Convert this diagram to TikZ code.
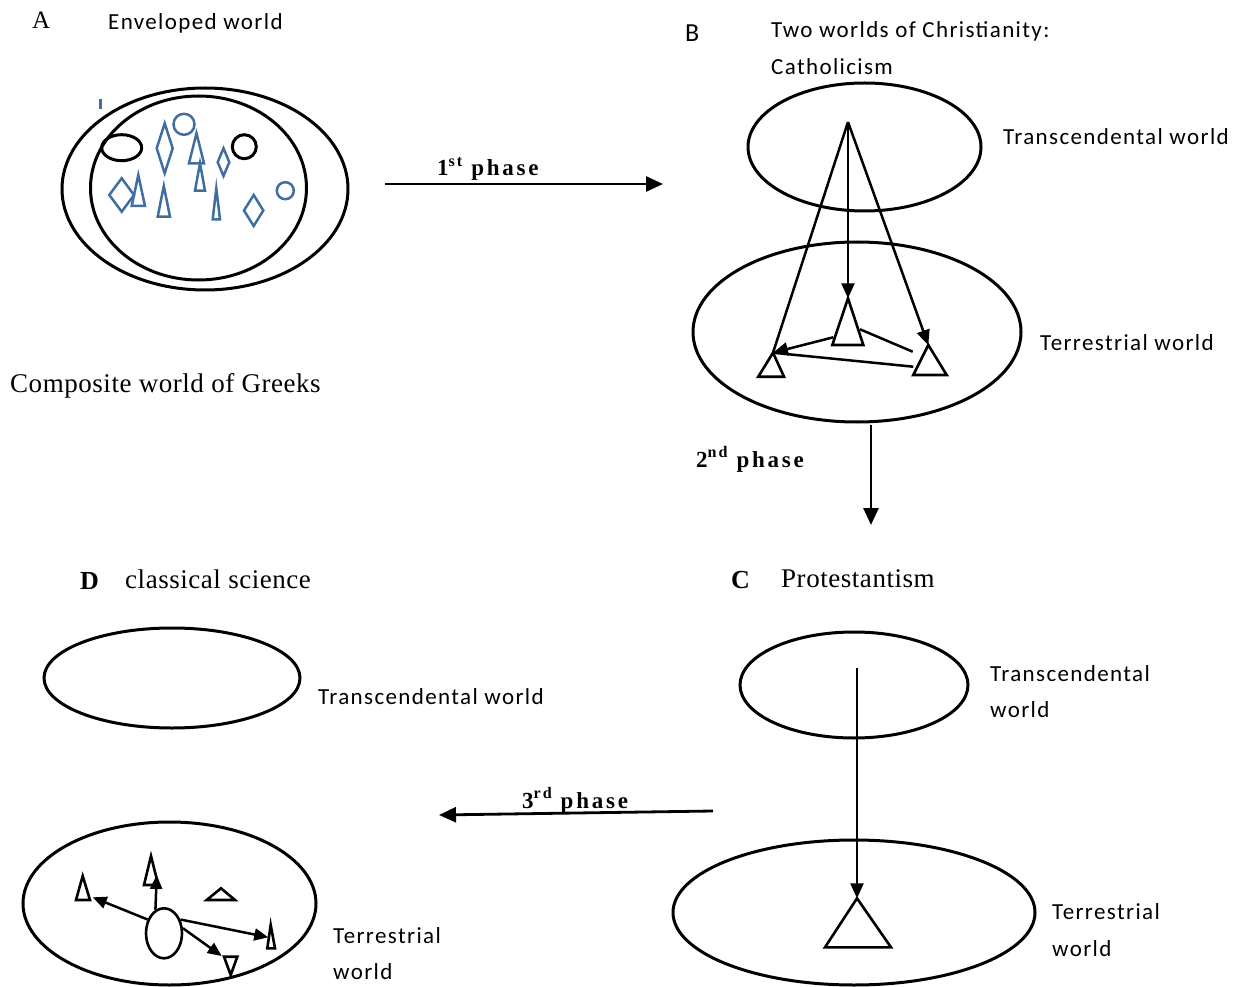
\documentclass[tikz,border=0pt]{standalone}
\usepackage{fontspec}
\setmainfont{Liberation Serif}
\newfontfamily\lab{Carlito}[LetterSpace=6]
\newfontfamily\ser{Liberation Serif}[LetterSpace=2]
\newfontfamily\phs{Liberation Serif}[LetterSpace=12]
\usetikzlibrary{shapes.geometric,arrows.meta}
\definecolor{shapeblue}{RGB}{65,110,160}
\tikzset{
  lbl/.style={anchor=base west, inner sep=0, font=\lab\fontsize{23}{27}\selectfont},
  serlbl/.style={anchor=base west, inner sep=0, font=\ser\fontsize{27}{30}\selectfont},
  letter/.style={anchor=base west, inner sep=0, font=\ser\fontsize{25}{28}\selectfont},
  bletter/.style={anchor=base west, inner sep=0, font=\ser\bfseries\fontsize{26}{28}\selectfont},
  phaselbl/.style={anchor=base west, inner sep=0, font=\phs\bfseries\fontsize{23}{26}\selectfont},
  world/.style={draw, ellipse, line width=3pt, inner sep=0, outer sep=0},
  blueshape/.style={draw=shapeblue, line width=2.5pt},
  blackshape/.style={draw=black, line width=3pt},
  tri/.style={draw, line width=2.6pt, line join=miter},
  conn/.style={line width=2.5pt, -{Triangle[length=15pt,width=13pt]}},
  plain/.style={line width=2.5pt},
  small/.style={line width=2.5pt, -{Triangle[length=14pt,width=12pt]}},
  phase/.style={line width=2.8pt, -{Triangle[length=17pt,width=15pt]}}
}
\begin{document}
\begin{tikzpicture}[x=1pt,y=-1pt]
\useasboundingbox (0,0) rectangle (1251,987);
\fill[white] (0,0) rectangle (1251,987);

% ---------- Panel A ----------
\node[letter] (Alab) at (32,29) {A};
\node[lbl] (Aenv) at (108,30) {Enveloped world};
\node[serlbl] (Acomp) at (10,392) {Composite world of Greeks};
\node[world, minimum width=286pt, minimum height=202pt] (Aout) at (205,189) {};
\node[world, minimum width=216pt, minimum height=184pt] (Ain) at (198.5,188) {};
% small shapes
\draw[blueshape] (100.7,99) -- (100.7,109);
\draw[blackshape] (121.7,147.7) ellipse [x radius=20, y radius=13];
\draw[blackshape] (244.3,146.7) circle [radius=12];
\draw[blueshape] (184,124.3) circle [radius=10.5];
\draw[blueshape] (285.3,190.7) circle [radius=8.5];
% diamonds
\draw[blueshape] (164.7,123.3) -- (172.7,148.3) -- (164.7,173.3) -- (156.7,148.3) -- cycle;
\draw[blueshape] (223.5,148.3) -- (229.3,162.2) -- (223.5,176) -- (217.7,162.2) -- cycle;
\draw[blueshape] (121.7,178.3) -- (134,195) -- (121.7,211.7) -- (109.3,195) -- cycle;
\draw[blueshape] (253.7,195) -- (263.3,210.5) -- (253.7,226) -- (244,210.5) -- cycle;
% triangles
\draw[blueshape] (196.5,133.3) -- (204,163.3) -- (189,163.3) -- cycle;
\draw[blueshape] (138.3,175) -- (145,206) -- (131.7,206) -- cycle;
\draw[blueshape] (163.8,186) -- (170,216.7) -- (157.7,216.7) -- cycle;
\draw[blueshape] (200,163.3) -- (205,190.7) -- (195,190.7) -- cycle;
\draw[blueshape] (216.3,188.3) -- (220,219.3) -- (212.7,219.3) -- cycle;

% ---------- phase 1 ----------
\coordinate (p1s) at (385,184);
\coordinate (p1e) at (663,184);
\draw[phase] (p1s) -- (p1e);
\node[phaselbl] (p1lab) at (437,176) {1\textsuperscript{st} phase};

% ---------- Panel B ----------
\node[lbl, font=\lab\fontsize{26}{28}\selectfont] (Blab) at (685,42) {B};
\node[lbl] (Btitle) at (771,38) {Two worlds of Christianity:};
\node[lbl] (Bcath) at (771,75) {Catholicism};
\node[world, minimum width=233pt, minimum height=128pt] (Btop) at (864.5,147) {};
\node[world, minimum width=328pt, minimum height=180pt] (Bbot) at (857,332) {};
\node[lbl] (Btrans) at (1003,145) {Transcendental world};
\node[lbl] (Bterr) at (1040,350) {Terrestrial world};
\coordinate (Bsrc) at (848,122);
\coordinate (Bc) at (848,298.3);
\coordinate (Bl) at (773,352.7);
\coordinate (Br) at (928.3,345);
\draw[tri] (Bc) -- (863.3,345) -- (832.3,345) -- cycle;
\draw[tri] (Bl) -- (784,376.7) -- (758.3,376.7) -- cycle;
\draw[tri] (Br) -- (946.7,375) -- (913.3,375) -- cycle;
\draw[conn] (Bsrc) -- (Bc);
\draw[conn] (Bsrc) -- (Br);
\draw[plain] (Bsrc) -- (Bl);
\coordinate (Bcl) at (833.3,337.3);
\coordinate (Brl) at (913.3,366.7);
\coordinate (Bcr) at (860,329.3);
\coordinate (Brm) at (912.7,351.7);
\draw[conn] (Bcl) -- (Bl);
\draw[plain] (Brl) -- (Bl);
\draw[plain] (Bcr) -- (Brm);

% ---------- phase 2 ----------
\coordinate (p2s) at (871,425);
\coordinate (p2e) at (871,525);
\draw[phase] (p2s) -- (p2e);
\node[phaselbl] (p2lab) at (696,467) {2\textsuperscript{nd} phase};

% ---------- Panel C ----------
\node[bletter] (Clab) at (731,588) {C};
\node[serlbl] (Cprot) at (781,587) {Protestantism};
\node[world, minimum width=228pt, minimum height=106pt] (Ctop) at (854,685) {};
\node[world, minimum width=362pt, minimum height=145pt] (Cbot) at (854,912.5) {};
\node[lbl] (Ctrans1) at (990,681) {Transcendental};
\node[lbl] (Ctrans2) at (990,717) {world};
\node[lbl] (Cterr1) at (1052,919) {Terrestrial};
\node[lbl] (Cterr2) at (1052,956) {world};
\coordinate (Csrc) at (857,668);
\coordinate (Capex) at (857,898.3);
\draw[tri] (Capex) -- (891,947.3) -- (825,947.3) -- cycle;
\draw[conn] (Csrc) -- (Capex);

% ---------- phase 3 ----------
\coordinate (p3s) at (713,811);
\coordinate (p3e) at (439,815);
\draw[phase] (p3s) -- (p3e);
\node[phaselbl] (p3lab) at (522,808) {3\textsuperscript{rd} phase};

% ---------- Panel D ----------
\node[bletter] (Dlab) at (80,589) {D};
\node[serlbl] (Dclass) at (125,588) {classical science};
\node[world, minimum width=256pt, minimum height=100pt] (Dtop) at (172,678) {};
\node[world, minimum width=293pt, minimum height=163pt] (Dbot) at (169.5,903.5) {};
\node[lbl] (Dtrans) at (318,704) {Transcendental world};
\node[lbl] (Dterr1) at (333,943) {Terrestrial};
\node[lbl] (Dterr2) at (333,979) {world};
\node[draw, ellipse, line width=2.6pt, minimum width=36pt, minimum height=50pt, inner sep=0] (Dn) at (164,933.3) {};
% triangles
\draw[tri] (82.7,876) -- (90,900) -- (76,900) -- cycle;
\draw[tri] (151,856) -- (158.3,885) -- (144,885) -- cycle;
\draw[tri] (221,888.3) -- (235,900) -- (206.7,900) -- cycle;
\draw[tri] (270.7,925) -- (275,948.3) -- (267.3,948.3) -- cycle;
\draw[tri] (224,956.7) -- (237.3,956.7) -- (230.7,975) -- cycle;
\coordinate (Dt1) at (92.7,897.3);
\coordinate (Dt2) at (156.7,875);
\coordinate (Dt3) at (268.3,937.3);
\coordinate (Dt4) at (221.7,956);
\draw[small] (Dn.140) -- (Dt1);
\draw[small] (Dn.110) -- (Dt2);
\draw[small] (Dn.40) -- (Dt3);
\draw[small] (Dn.15) -- (Dt4);
\end{tikzpicture}
\end{document}
